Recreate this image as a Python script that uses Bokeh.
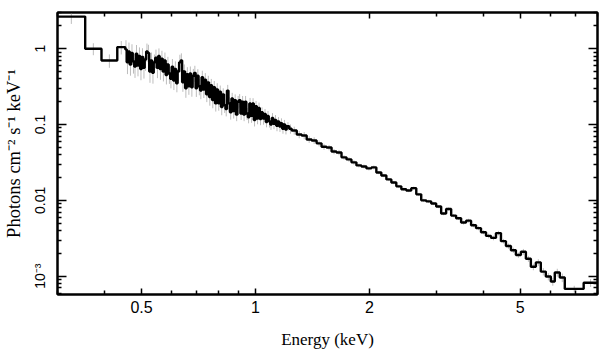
import numpy as np
from bokeh.plotting import figure
from bokeh.models import Range1d, FixedTicker, LogAxis, CustomJSTickFormatter
from bokeh.embed import file_html
from bokeh.resources import INLINE

# ---- data ----
# bin lower edges in keV, final entry is the upper edge of the last bin
edges = [
    0.300, 0.355, 0.392, 0.4315,
    # finely binned, noisy soft band
    0.4529, 0.4570, 0.4612, 0.4654, 0.4697, 0.4740, 0.4784, 0.4828, 0.4872, 0.4916,
    0.4961, 0.5006, 0.5052, 0.5098, 0.5145, 0.5192, 0.5240, 0.5288, 0.5336, 0.5385,
    0.5434, 0.5484, 0.5534, 0.5584, 0.5635, 0.5687, 0.5739, 0.5791, 0.5844, 0.5898,
    0.5952, 0.6006, 0.6061, 0.6116, 0.6172, 0.6228, 0.6285, 0.6343, 0.6401, 0.6459,
    0.6518, 0.6578, 0.6638, 0.6699, 0.6760, 0.6822, 0.6884, 0.6947, 0.7010, 0.7074,
    0.7139, 0.7204, 0.7270, 0.7336, 0.7403, 0.7471, 0.7539, 0.7608, 0.7677, 0.7747,
    0.7818, 0.7889, 0.7961, 0.8034, 0.8107, 0.8181, 0.8256, 0.8331, 0.8407, 0.8484,
    0.8561, 0.8639, 0.8718, 0.8798, 0.8878, 0.8959, 0.9040, 0.9122, 0.9204, 0.9288,
    0.9372, 0.9458, 0.9544, 0.9631, 0.9719, 0.9808, 0.9897, 0.9988, 1.0079, 1.0171,
    1.0264, 1.0358, 1.0452, 1.0548, 1.0644, 1.0741, 1.0839, 1.0938, 1.1037, 1.1138,
    1.1240, 1.1343, 1.1446, 1.1551, 1.1656, 1.1763, 1.1870, 1.1979, 1.2089, 1.2274,
    # harder band
    1.246, 1.285, 1.324, 1.365, 1.407, 1.450, 1.494, 1.540, 1.588, 1.636, 1.687, 1.739, 1.792,
    1.847, 1.904, 1.963, 2.023, 2.085, 2.149, 2.216, 2.284, 2.354, 2.427, 2.501, 2.578, 2.658,
    2.739, 2.824, 2.911, 3.000, 3.092, 3.187, 3.286, 3.386, 3.491, 3.598, 3.709, 3.823, 3.940,
    4.062, 4.187, 4.315, 4.448, 4.585, 4.726, 4.871, 5.021, 5.176, 5.335, 5.499, 5.668, 5.843,
    6.023, 6.17, 6.36, 6.557, 7.355,
    8.0,
]

# flux, photons cm^-2 s^-1 keV^-1 (one value per bin)
flux = [
    2.65, 1.00, 0.70, 1.05,
    0.98, 0.66, 0.92, 0.62, 0.88, 0.68, 0.58, 0.86, 0.60, 0.80,
    0.54, 0.78, 0.56, 0.72, 0.92, 0.88, 0.50, 0.70, 0.48, 0.66,
    0.76, 0.56, 0.80, 0.54, 0.74, 0.50, 0.70, 0.45, 0.62, 0.47,
    0.40, 0.58, 0.38, 0.54, 0.35, 0.50, 0.66, 0.70, 0.36, 0.50,
    0.30, 0.46, 0.32, 0.47, 0.31, 0.44, 0.48, 0.30, 0.44, 0.32,
    0.28, 0.42, 0.29, 0.39, 0.25, 0.36, 0.23, 0.33, 0.21, 0.31,
    0.19, 0.29, 0.19, 0.27, 0.17, 0.25, 0.18, 0.16, 0.28, 0.19,
    0.145, 0.22, 0.15, 0.21, 0.135, 0.20, 0.21, 0.14, 0.20, 0.135,
    0.20, 0.14, 0.125, 0.19, 0.13, 0.19, 0.115, 0.175, 0.12, 0.165,
    0.118, 0.145, 0.12, 0.138, 0.108, 0.13, 0.11, 0.10, 0.122, 0.102,
    0.115, 0.096, 0.11, 0.094, 0.104, 0.088, 0.10, 0.086, 0.095, 0.088,
    0.0836, 0.0740, 0.0718, 0.0636, 0.0617, 0.0565, 0.0510, 0.0498, 0.0441, 0.0428, 0.0369, 0.0347, 0.0317,
    0.0289, 0.0280, 0.0264, 0.0272, 0.0233, 0.0213, 0.0189, 0.0172, 0.0153, 0.0140, 0.0135, 0.0145, 0.0120,
    0.0100, 0.0097, 0.0091, 0.0083, 0.0067, 0.0077, 0.0063, 0.0058, 0.0051, 0.0054, 0.0047, 0.0043, 0.0038,
    0.0034, 0.0032, 0.0037, 0.0029, 0.0025, 0.0022, 0.0019, 0.0021, 0.0017, 0.00133, 0.00152, 0.00115, 0.00099,
    0.00085, 0.00112, 0.00096, 0.00068, 0.00082,
]

# relative 1-sigma errors (one value per bin)
rel_err = [
    0.20, 0.18, 0.20, 0.20,
    0.32, 0.30, 0.31, 0.29, 0.30, 0.31, 0.29, 0.30, 0.28, 0.30,
    0.29, 0.30, 0.28, 0.29, 0.27, 0.28, 0.29, 0.27, 0.28, 0.27,
    0.28, 0.27, 0.26, 0.28, 0.27, 0.26, 0.27, 0.25, 0.26, 0.27,
    0.25, 0.26, 0.25, 0.26, 0.24, 0.25, 0.26, 0.24, 0.25, 0.24,
    0.25, 0.24, 0.23, 0.24, 0.25, 0.23, 0.24, 0.23, 0.22, 0.24,
    0.23, 0.22, 0.23, 0.22, 0.21, 0.22, 0.23, 0.21, 0.22, 0.21,
    0.22, 0.21, 0.20, 0.21, 0.22, 0.20, 0.21, 0.20, 0.19, 0.21,
    0.20, 0.19, 0.20, 0.19, 0.18, 0.19, 0.20, 0.18, 0.19, 0.18,
    0.19, 0.18, 0.17, 0.18, 0.19, 0.17, 0.18, 0.17, 0.16, 0.18,
    0.17, 0.16, 0.17, 0.16, 0.15, 0.16, 0.17, 0.15, 0.16, 0.15,
    0.16, 0.15, 0.14, 0.15, 0.16, 0.14, 0.15, 0.14, 0.13, 0.14,
    0.12, 0.11, 0.11, 0.10, 0.10, 0.09, 0.09, 0.08, 0.08, 0.08, 0.07, 0.07, 0.07,
    0.06, 0.06, 0.06, 0.06, 0.05, 0.05, 0.05, 0.05, 0.05, 0.05, 0.05, 0.05, 0.05,
    0.05, 0.05, 0.05, 0.05, 0.05, 0.05, 0.05, 0.05, 0.06, 0.06, 0.06, 0.06, 0.06,
    0.07, 0.07, 0.07, 0.07, 0.08, 0.08, 0.08, 0.09, 0.09, 0.10, 0.10, 0.11, 0.11,
    0.12, 0.12, 0.13, 0.10, 0.12,
]

x_ticks = [0.5, 1, 2, 5]
x_tick_labels = ["0.5", "1", "2", "5"]
x_minor = [0.3, 0.4, 0.6, 0.7, 0.8, 0.9, 3, 4, 6, 7, 8]

y_ticks = [0.001, 0.01, 0.1, 1]
y_tick_labels = ["10\u207b\u00b3", "0.01", "0.1", "1"]
y_minor = [0.0006, 0.0007, 0.0008, 0.0009,
           0.002, 0.003, 0.004, 0.005, 0.006, 0.007, 0.008, 0.009,
           0.02, 0.03, 0.04, 0.05, 0.06, 0.07, 0.08, 0.09,
           0.2, 0.3, 0.4, 0.5, 0.6, 0.7, 0.8, 0.9, 2, 3]

x_label = "Energy (keV)"
y_label = "Photons cm\u207b\u00b2 s\u207b\u00b9 keV\u207b\u00b9"

# ---- plot ----
e = np.array(edges)
f = np.array(flux)
r = np.array(rel_err)
centers = np.sqrt(e[:-1] * e[1:])

p = figure(width=609, height=357, x_axis_type="log", y_axis_type="log",
           x_range=Range1d(0.3, 8.0), y_range=Range1d(5.74e-4, 3.0),
           min_border_left=55, min_border_right=12, min_border_top=12, min_border_bottom=63,
           output_backend="svg", toolbar_location=None)
p.grid.visible = False
p.background_fill_color = "white"
p.border_fill_color = "white"
p.outline_line_color = "black"
p.outline_line_width = 2

p.segment(x0=centers, y0=f * (1 - r), x1=centers, y1=f * (1 + r),
          line_color="#bdbdbd", line_width=1)
p.step(x=list(e), y=list(f) + [f[-1]], mode="after", line_color="black", line_width=2.4)


def fmt(tvals, tlabels):
    return CustomJSTickFormatter(args=dict(tvals=tvals, tlabels=tlabels), code="""
        for (let i = 0; i < tvals.length; i++) {
            if (Math.abs(tick / tvals[i] - 1) < 1e-6) return tlabels[i];
        }
        return '';
    """)


def style(ax, tvals, minors, major_len, show_labels, tlabels=None):
    ax.ticker = FixedTicker(ticks=tvals, minor_ticks=minors)
    ax.axis_line_color = "black"
    ax.axis_line_width = 2
    ax.major_tick_line_color = "black"
    ax.minor_tick_line_color = "black"
    ax.major_tick_line_width = 1.5
    ax.minor_tick_line_width = 1.5
    ax.major_tick_in = major_len
    ax.major_tick_out = 0
    ax.minor_tick_in = 4
    ax.minor_tick_out = 0
    if show_labels:
        ax.formatter = fmt(tvals, tlabels)
    else:
        ax.formatter = CustomJSTickFormatter(code="return '';")
        ax.major_label_standoff = 0


xa = p.xaxis[0]
style(xa, x_ticks, x_minor, 6, True, x_tick_labels)
xa.major_label_text_font = "Liberation Sans"
xa.major_label_text_font_size = "16px"
xa.major_label_text_color = "black"
xa.major_label_standoff = 6
xa.axis_label = x_label
xa.axis_label_text_font = "Liberation Serif"
xa.axis_label_text_font_style = "normal"
xa.axis_label_text_font_size = "17px"
xa.axis_label_text_color = "black"
xa.axis_label_standoff = 14

ya = p.yaxis[0]
style(ya, y_ticks, y_minor, 9, True, y_tick_labels)
ya.major_label_orientation = "vertical"
ya.major_label_text_font = "Liberation Sans"
ya.major_label_text_font_size = "14px"
ya.major_label_text_color = "black"
ya.major_label_standoff = 9
ya.axis_label = y_label
ya.axis_label_text_font = "Liberation Serif"
ya.axis_label_text_font_style = "normal"
ya.axis_label_text_font_size = "18.5px"
ya.axis_label_text_color = "black"
ya.axis_label_standoff = 6

top = LogAxis()
style(top, x_ticks, x_minor, 6, False)
p.add_layout(top, "above")
right = LogAxis()
style(right, y_ticks, y_minor, 9, False)
p.add_layout(right, "right")

open("out.html", "w").write(file_html(p, INLINE))
